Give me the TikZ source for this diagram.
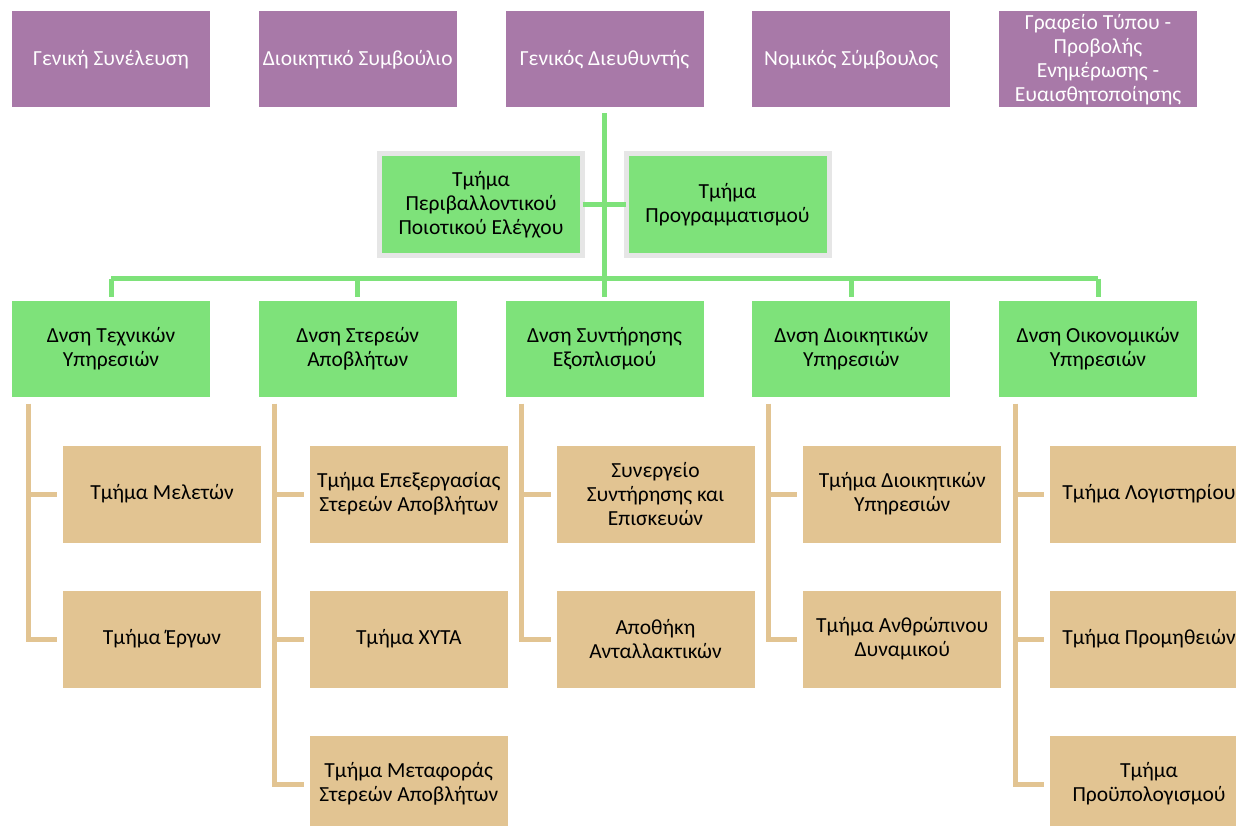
\documentclass[tikz,border=0pt]{standalone}
\usepackage{fontspec}
\setmainfont{Carlito}
\usepackage{xcolor}
\usetikzlibrary{positioning}

\definecolor{boardpurple}{RGB}{168,121,168}
\definecolor{deptgreen}{RGB}{126,226,122}
\definecolor{unittan}{RGB}{226,196,146}
\definecolor{staffgray}{RGB}{230,230,230}

\begin{document}
\begin{tikzpicture}[
        x=1pt, y=-1pt,
        every node/.style={font=\fontsize{21.5}{24}\selectfont, align=center, inner sep=2pt, outer sep=0pt},
        topbox/.style={rectangle, fill=boardpurple, text=white, minimum width=198pt, minimum height=96pt},
        deptbox/.style={rectangle, fill=deptgreen, minimum width=198pt, minimum height=96pt},
        staffbox/.style={rectangle, fill=deptgreen, draw=staffgray, line width=5pt, minimum width=203pt, minimum height=102pt},
        unitbox/.style={rectangle, fill=unittan, minimum width=198pt, minimum height=97pt},
        greenline/.style={draw=deptgreen, line width=5pt},
        tanline/.style={draw=unittan, line width=5pt}
    ]
        \useasboundingbox[fill=white] (0,0) rectangle (1236,826);

        % top row
        \node[topbox] (gensyn) at (111,59.5) {Γενική Συνέλευση};
        \node[topbox, right=48.75pt of gensyn] (dsymv) {Διοικητικό Συμβούλιο};
        \node[topbox, right=48.75pt of dsymv] (gdir) {Γενικός Διευθυντής};
        \node[topbox, right=48.75pt of gdir] (nomsym) {Νομικός Σύμβουλος};
        \node[topbox, right=48.75pt of nomsym] (press) {Γραφείο Τύπου -\\Προβολής\\Ενημέρωσης -\\Ευαισθητοποίησης};

        % staff units
        \node[staffbox] (penv) at (481,204.5) {Τμήμα\\Περιβαλλοντικού\\Ποιοτικού Ελέγχου};
        \node[staffbox] (prog) at (727.5,204.5) {Τμήμα\\Προγραμματισμού};

        % directorates
        \node[deptbox, below=193pt of gensyn] (dtech) {Δνση Τεχνικών\\Υπηρεσιών};
        \node[deptbox, below=193pt of dsymv] (dsolid) {Δνση Στερεών\\Αποβλήτων};
        \node[deptbox, below=193pt of gdir] (dmaint) {Δνση Συντήρησης\\Εξοπλισμού};
        \node[deptbox, below=193pt of nomsym] (dadmin) {Δνση Διοικητικών\\Υπηρεσιών};
        \node[deptbox, below=193pt of press] (dfin) {Δνση Οικονομικών\\Υπηρεσιών};

        % departments
        \node[unitbox, below=49pt of dtech, xshift=51pt] (ustud) {Τμήμα Μελετών};
        \node[unitbox, below=48pt of ustud] (uwork) {Τμήμα Έργων};
        \node[unitbox, below=49pt of dsolid, xshift=51pt] (uproc) {Τμήμα Επεξεργασίας\\Στερεών Αποβλήτων};
        \node[unitbox, below=48pt of uproc] (uxyta) {Τμήμα ΧΥΤΑ};
        \node[unitbox, below=48pt of uxyta] (utrans) {Τμήμα Μεταφοράς\\Στερεών Αποβλήτων};
        \node[unitbox, below=49pt of dmaint, xshift=51pt] (ugar) {Συνεργείο\\Συντήρησης και\\Επισκευών};
        \node[unitbox, below=48pt of ugar] (ustore) {Αποθήκη\\Ανταλλακτικών};
        \node[unitbox, below=49pt of dadmin, xshift=51pt] (uadm) {Τμήμα Διοικητικών\\Υπηρεσιών};
        \node[unitbox, below=48pt of uadm] (uhr) {Τμήμα Ανθρώπινου\\Δυναμικού};
        \node[unitbox, below=49pt of dfin, xshift=51pt] (uacc) {Τμήμα Λογιστηρίου};
        \node[unitbox, below=48pt of uacc] (usup) {Τμήμα Προμηθειών};
        \node[unitbox, below=48pt of usup] (ubud) {Τμήμα\\Προϋπολογισμού};

        % green connectors
        \coordinate (bus) at ([yshift=22pt]dmaint.north);
        \draw[greenline] ([yshift=-6pt]gdir.south) -- (bus);
        \draw[greenline] (penv.east) -- (prog.west);
        \draw[greenline] ([yshift=22pt]dtech.north) -- ([yshift=22pt]dfin.north);
        \foreach \d in {dtech,dsolid,dmaint,dadmin,dfin}
            \draw[greenline] ([yshift=22pt]\d.north) -- ([yshift=4pt]\d.north);

        % tan connectors
        \foreach \d/\last in {dtech/uwork,dsolid/utrans,dmaint/ustore,dadmin/uhr,dfin/ubud}
            \draw[tanline] ([xshift=16pt,yshift=-7pt]\d.south west) |- ([xshift=-6pt]\last.west);
        \foreach \d/\u in {dtech/ustud,dsolid/uproc,dsolid/uxyta,dmaint/ugar,dadmin/uadm,dfin/uacc,dfin/usup}
            \draw[tanline] ([xshift=16pt]\d.south west |- \u.west) -- ([xshift=-6pt]\u.west);
    \end{tikzpicture}
\end{document}
